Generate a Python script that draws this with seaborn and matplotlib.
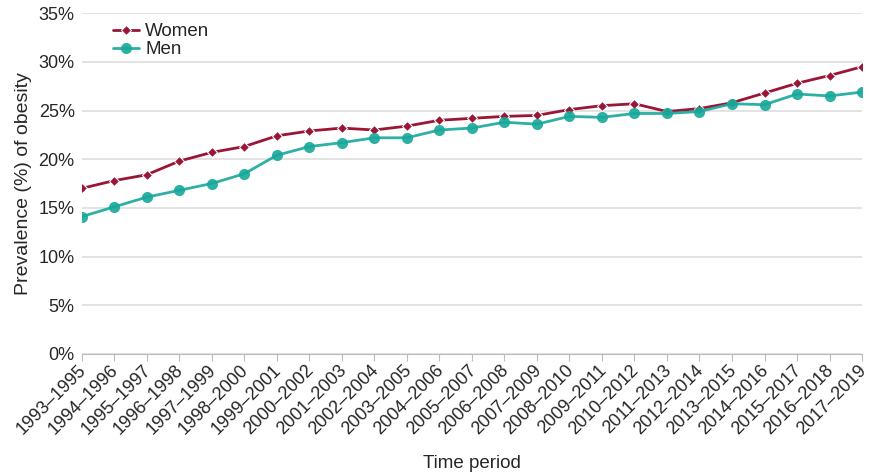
import matplotlib
matplotlib.use("Agg")
import matplotlib.pyplot as plt
import matplotlib.transforms as mtransforms
import pandas as pd
import seaborn as sns
from matplotlib.ticker import PercentFormatter

periods = [f"{y}\u2013{y + 2}" for y in range(1993, 2018)]
women = [17.0, 17.8, 18.4, 19.8, 20.7, 21.3, 22.4, 22.9, 23.2, 23.0, 23.4, 24.0, 24.2,
         24.4, 24.5, 25.1, 25.5, 25.7, 24.9, 25.2, 25.8, 26.8, 27.8, 28.6, 29.5]
men = [14.1, 15.1, 16.1, 16.8, 17.5, 18.5, 20.4, 21.3, 21.7, 22.2, 22.2, 23.0, 23.2,
       23.8, 23.6, 24.4, 24.3, 24.7, 24.7, 24.9, 25.7, 25.6, 26.7, 26.5, 26.9]

df = pd.DataFrame({"period": periods * 2,
                   "value": women + men,
                   "sex": ["Women"] * len(women) + ["Men"] * len(men)})

sns.set_style("white")
plt.rcParams["font.family"] = ["Liberation Sans", "DejaVu Sans"]

fig, ax = plt.subplots(figsize=(8.69, 4.73), dpi=100)
fig.subplots_adjust(left=0.094, right=0.992, top=0.972, bottom=0.252)

colors = {"Women": "#9b1535", "Men": "#17a89a"}
sns.lineplot(data=df[df["sex"] == "Women"], x="period", y="value", color=colors["Women"],
             marker="D", markersize=5.5, linewidth=2, label="Women", ax=ax, sort=False)
sns.lineplot(data=df[df["sex"] == "Men"], x="period", y="value", color=colors["Men"],
             marker="o", markersize=8, linewidth=2, label="Men", ax=ax, sort=False,
             markeredgewidth=0, alpha=0.9)

ax.set_ylim(0, 35)
ax.set_xlim(0, len(periods) - 1)
ax.yaxis.set_major_formatter(PercentFormatter(decimals=0))
ax.set_yticks(range(0, 36, 5))
ax.grid(axis="y", color="#dedede", linewidth=1.2)
ax.set_axisbelow(True)
for s in ["top", "right", "left"]:
    ax.spines[s].set_visible(False)
ax.spines["bottom"].set_color("#bbbbbb")
ax.tick_params(axis="x", bottom=True, length=5, color="#bbbbbb", labelsize=13, pad=1)
ax.tick_params(axis="y", length=0, labelsize=13, pad=5)
shift = mtransforms.ScaledTranslation(-3 / 72, 0, fig.dpi_scale_trans)
for lab in ax.get_xticklabels():
    lab.set_rotation(45)
    lab.set_ha("right")
    lab.set_rotation_mode("anchor")
    lab.set_transform(lab.get_transform() + shift)
ax.set_xlabel("Time period", fontsize=13.5, labelpad=12)
ax.set_ylabel("Prevalence (%) of obesity", fontsize=14, labelpad=5)

ax.legend(loc="upper left", bbox_to_anchor=(0.019, 1.02), frameon=False, fontsize=13.5,
          handlelength=1.35, labelspacing=0.05, handletextpad=0.35)

fig.savefig("out.png", dpi=100)
